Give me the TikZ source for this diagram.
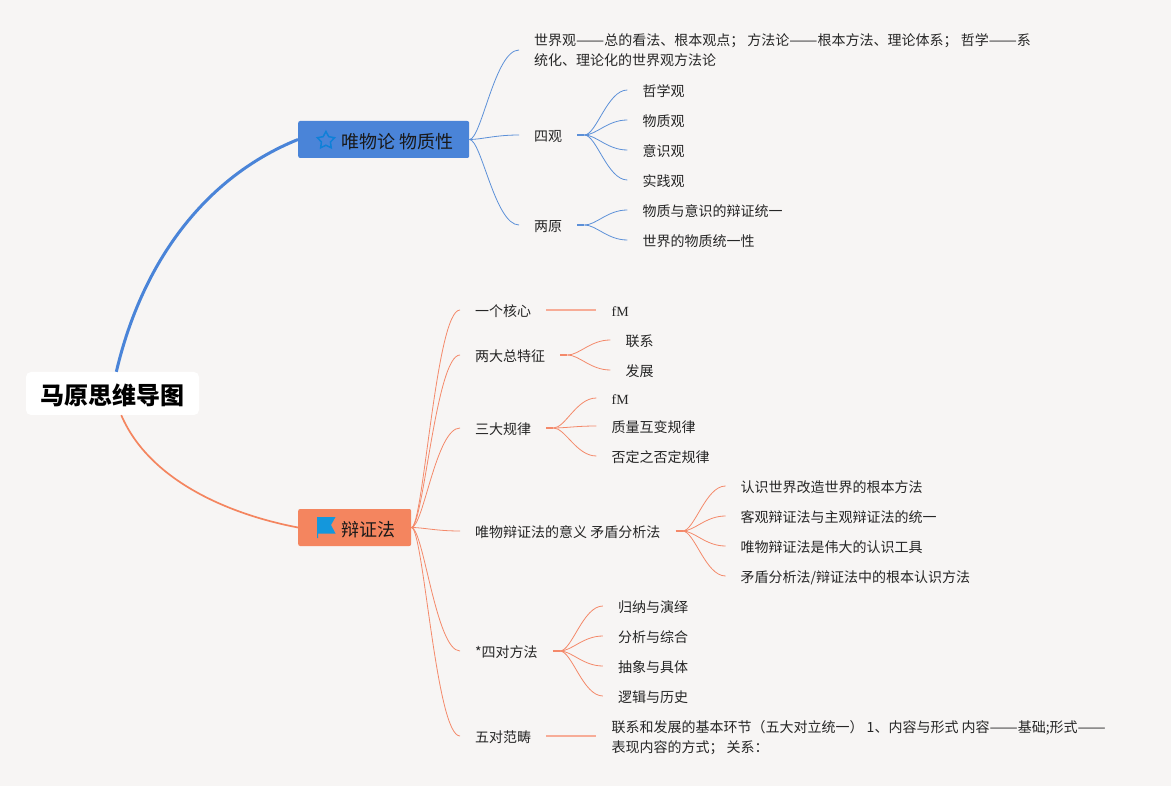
\documentclass[tikz,border=0pt]{standalone}
\usepackage{fontspec}
\setmainfont{Noto Sans CJK SC}
\newfontfamily\latinserif{Liberation Serif}
\usetikzlibrary{shapes.geometric, positioning, backgrounds}
\definecolor{paper}{HTML}{F7F5F4}
\definecolor{blueline}{HTML}{5C90D8}
\definecolor{bluebox}{HTML}{4A84D8}
\definecolor{orangeline}{HTML}{F4896A}
\definecolor{orangebox}{HTML}{F4855F}
\definecolor{iconblue}{HTML}{1497DC}
\definecolor{starblue}{HTML}{0F80D8}
\newcommand{\longdash}{\scalebox{1.2}[1]{——}}
\tikzset{
  rootbox/.style={rectangle, fill=white, rounded corners=5pt, minimum width=173pt,
                  minimum height=43pt, inner sep=0pt, text height=23pt, text depth=1.6pt,
                  font=\fontsize{24}{28}\selectfont\bfseries},
  topic/.style={rectangle, rounded corners=2pt, minimum height=37pt, inner xsep=15.5pt,
                inner ysep=0pt, text height=19pt, text depth=1.2pt,
                text=black!90, font=\fontsize{18}{22}\selectfont},
  item/.style={rectangle, inner xsep=15pt, inner ysep=0pt, text height=15pt, text depth=1.5pt,
               text=black!85, font=\fontsize{14}{20}\selectfont},
  longitem/.style={rectangle, inner xsep=15pt, inner ysep=0pt, align=left, text height=33pt, text depth=1pt,
               text=black!85, font=\fontsize{14}{20}\selectfont},
  fan/.style={to path={.. controls +(12,0) and +(-20,0) .. (\tikztotarget)}},
  wide/.style={to path={.. controls +(12,0) and +(-24,0) .. (\tikztotarget)}},
  bluelink/.style={draw=blueline, line width=0.8pt},
  orangelink/.style={draw=orangeline, line width=0.8pt},
  bluestub/.style={draw=blueline, line width=2pt},
  orangestub/.style={draw=orangeline, line width=2pt},
  flatlink/.style={draw=orangeline!70, line width=1.5pt},
  node distance=50pt
}
\begin{document}
\begin{tikzpicture}[x=1pt, y=-1pt]
  \fill[paper] (0,0) rectangle (1171,786);
  \useasboundingbox (0,0) rectangle (1171,786);

  \node[rootbox] (root) at (112.5,393.5) {马原思维导图};
  \node[topic, fill=bluebox, anchor=west] (wei) at (298,139.5) {\hspace{28pt}唯物论 物质性};
  \node[topic, fill=orangebox, anchor=west] (bian) at (298,527.5) {\hspace{28pt}辩证法};
  \node[star, star points=5, star point ratio=1.9, draw=starblue, line width=1.5pt, minimum size=18pt,
        inner sep=0pt, right=21pt of wei.west, yshift=-1pt] (weistar) {};
  \fill[iconblue] (317,517) -- (335.5,517) -- (331,525) -- (335.5,533.5) -- (318,533.5)
    -- (318,538) -- (317,538) -- cycle;

  % blue branch
  \node[longitem, anchor=west] (shijie) at (519,50)
    {世界观\longdash 总的看法、根本观点； 方法论\longdash 根本方法、理论体系； 哲学\longdash 系\\统化、理论化的世界观方法论};
  \node[item, anchor=west] (siguan) at (519,135) {四观};
  \node[item, anchor=west] (liangyuan) at (519,225) {两原};
  \coordinate[right=7pt of siguan.east] (siguanhub);
  \coordinate[right=7pt of liangyuan.east] (liangyuanhub);
  \node[item, right=of siguan, yshift=45pt]  (zhe)  {哲学观};
  \node[item, right=of siguan, yshift=15pt]  (wu)   {物质观};
  \node[item, right=of siguan, yshift=-15pt] (yi)   {意识观};
  \node[item, right=of siguan, yshift=-45pt] (shi)  {实践观};
  \node[item, right=of liangyuan, yshift=15pt]  (tongyi) {物质与意识的辩证统一};
  \node[item, right=of liangyuan, yshift=-15pt] (shijiewu) {世界的物质统一性};

  \draw[draw=bluebox, line width=3pt] (root.80) .. controls (142,262) and (205,177) .. (wei.west);
  \draw[bluelink, wide] (wei.east) to (shijie.west);
  \draw[bluelink, wide] (wei.east) to (siguan.west);
  \draw[bluelink, wide] (wei.east) to (liangyuan.west);
  \draw[bluestub] (siguan.east) -- (siguanhub);
  \draw[bluestub] (liangyuan.east) -- (liangyuanhub);
  \draw[bluelink, fan] (siguanhub) to (zhe.west);
  \draw[bluelink, fan] (siguanhub) to (wu.west);
  \draw[bluelink, fan] (siguanhub) to (yi.west);
  \draw[bluelink, fan] (siguanhub) to (shi.west);
  \draw[bluelink, fan] (liangyuanhub) to (tongyi.west);
  \draw[bluelink, fan] (liangyuanhub) to (shijiewu.west);

  % orange branch
  \node[item, anchor=west] (hexin) at (460,310) {一个核心};
  \node[item, anchor=west] (tezheng) at (460,355) {两大总特征};
  \node[item, anchor=west] (guilv) at (460,428) {三大规律};
  \node[item, anchor=west] (yiyi) at (460,531) {唯物辩证法的意义 矛盾分析法};
  \node[item, anchor=west] (fangfa) at (460,651) {*四对方法};
  \node[item, anchor=west] (fanchou) at (460,736) {五对范畴};
  \coordinate[right=7pt of tezheng.east] (tezhenghub);
  \coordinate[right=7pt of guilv.east] (guilvhub);
  \coordinate[right=7pt of yiyi.east] (yiyihub);
  \coordinate[right=7pt of fangfa.east] (fangfahub);

  \node[item, right=of hexin] (hexinfm) {\latinserif fM};
  \node[item, right=of tezheng, yshift=15pt]  (lianxi) {联系};
  \node[item, right=of tezheng, yshift=-15pt] (fazhan) {发展};
  \node[item, right=of guilv, yshift=30pt]  (guilvfm) {\latinserif fM};
  \node[item, right=of guilv, yshift=2pt]   (zhiliang) {质量互变规律};
  \node[item, right=of guilv, yshift=-28pt] (fouding) {否定之否定规律};
  \node[item, right=of yiyi, yshift=45pt]  (renshi) {认识世界改造世界的根本方法};
  \node[item, right=of yiyi, yshift=15pt]  (keguan) {客观辩证法与主观辩证法的统一};
  \node[item, right=of yiyi, yshift=-15pt] (gongju) {唯物辩证法是伟大的认识工具};
  \node[item, right=of yiyi, yshift=-45pt] (maodun) {矛盾分析法/辩证法中的根本认识方法};
  \node[item, right=of fangfa, yshift=45pt]  (guina) {归纳与演绎};
  \node[item, right=of fangfa, yshift=15pt]  (fenxi) {分析与综合};
  \node[item, right=of fangfa, yshift=-15pt] (chouxiang) {抽象与具体};
  \node[item, right=of fangfa, yshift=-45pt] (luoji) {逻辑与历史};
  \node[longitem, right=of fanchou] (huanjie)
    {联系和发展的基本环节（五大对立统一） 1、内容与形式 内容\longdash 基础;形式\longdash\\表现内容的方式； 关系：};

  \draw[draw=orangebox, line width=1.7pt] (root.-68) .. controls (150,482) and (232,515) .. (bian.west);
  \draw[orangelink, wide] (bian.east) to (hexin.west);
  \draw[orangelink, wide] (bian.east) to (tezheng.west);
  \draw[orangelink, wide] (bian.east) to (guilv.west);
  \draw[orangelink, wide] (bian.east) to (yiyi.west);
  \draw[orangelink, wide] (bian.east) to (fangfa.west);
  \draw[orangelink, wide] (bian.east) to (fanchou.west);
  \draw[flatlink] (hexin.east) -- (hexinfm.west);
  \draw[flatlink] (fanchou.east) -- (huanjie.west);
  \draw[orangestub] (tezheng.east) -- (tezhenghub);
  \draw[orangestub] (guilv.east) -- (guilvhub);
  \draw[orangestub] (yiyi.east) -- (yiyihub);
  \draw[orangestub] (fangfa.east) -- (fangfahub);
  \draw[orangelink, fan] (tezhenghub) to (lianxi.west);
  \draw[orangelink, fan] (tezhenghub) to (fazhan.west);
  \draw[orangelink, fan] (guilvhub) to (guilvfm.west);
  \draw[orangelink, fan] (guilvhub) to (zhiliang.west);
  \draw[orangelink, fan] (guilvhub) to (fouding.west);
  \draw[orangelink, fan] (yiyihub) to (renshi.west);
  \draw[orangelink, fan] (yiyihub) to (keguan.west);
  \draw[orangelink, fan] (yiyihub) to (gongju.west);
  \draw[orangelink, fan] (yiyihub) to (maodun.west);
  \draw[orangelink, fan] (fangfahub) to (guina.west);
  \draw[orangelink, fan] (fangfahub) to (fenxi.west);
  \draw[orangelink, fan] (fangfahub) to (chouxiang.west);
  \draw[orangelink, fan] (fangfahub) to (luoji.west);
\end{tikzpicture}
\end{document}
